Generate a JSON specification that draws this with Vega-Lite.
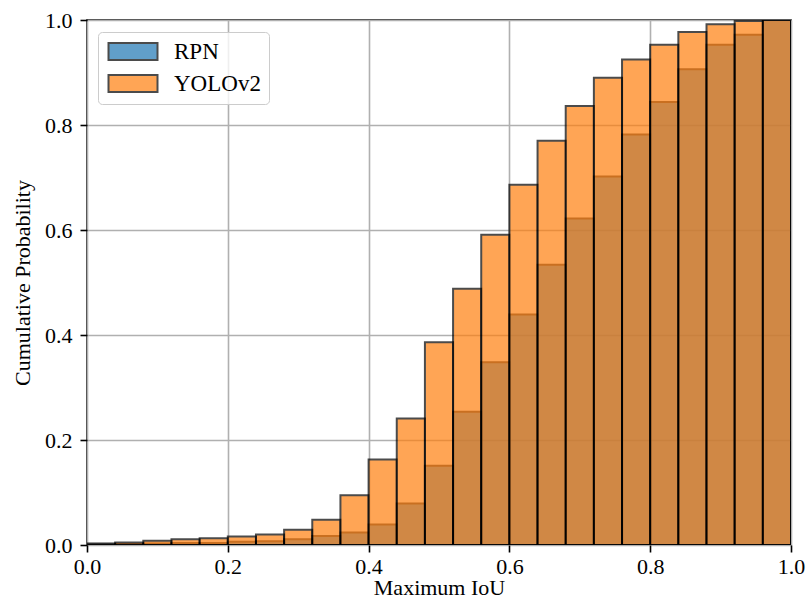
{
  "$schema": "https://vega.github.io/schema/vega-lite/v6.json",
  "width": 704,
  "height": 525,
  "autosize": "none",
  "padding": {"left": 87, "top": 20, "right": 17, "bottom": 65},
  "background": "white",
  "config": {
    "view": {"stroke": "black", "strokeWidth": 1.6},
    "font": "Liberation Serif",
    "axis": {
      "labelFont": "Liberation Serif",
      "labelFontSize": 22,
      "labelColor": "black",
      "titleFont": "Liberation Serif",
      "titleFontSize": 22,
      "titleFontWeight": "normal",
      "titleColor": "black",
      "domain": false,
      "tickColor": "black",
      "tickSize": 7,
      "tickWidth": 1.6,
      "grid": true,
      "gridColor": "#b0b0b0",
      "gridWidth": 1.6,
      "gridOpacity": 1,
      "zindex": 1
    },
    "legend": {
      "labelFont": "Liberation Serif",
      "labelFontSize": 23,
      "labelColor": "black"
    }
  },
  "data": {
    "values": [
      {"series": "RPN", "start": 0.00, "end": 0.04, "value": 0.001},
      {"series": "RPN", "start": 0.04, "end": 0.08, "value": 0.002},
      {"series": "RPN", "start": 0.08, "end": 0.12, "value": 0.003},
      {"series": "RPN", "start": 0.12, "end": 0.16, "value": 0.004},
      {"series": "RPN", "start": 0.16, "end": 0.20, "value": 0.004},
      {"series": "RPN", "start": 0.20, "end": 0.24, "value": 0.006},
      {"series": "RPN", "start": 0.24, "end": 0.28, "value": 0.007},
      {"series": "RPN", "start": 0.28, "end": 0.32, "value": 0.011},
      {"series": "RPN", "start": 0.32, "end": 0.36, "value": 0.017},
      {"series": "RPN", "start": 0.36, "end": 0.40, "value": 0.024},
      {"series": "RPN", "start": 0.40, "end": 0.44, "value": 0.039},
      {"series": "RPN", "start": 0.44, "end": 0.48, "value": 0.079},
      {"series": "RPN", "start": 0.48, "end": 0.52, "value": 0.151},
      {"series": "RPN", "start": 0.52, "end": 0.56, "value": 0.254},
      {"series": "RPN", "start": 0.56, "end": 0.60, "value": 0.348},
      {"series": "RPN", "start": 0.60, "end": 0.64, "value": 0.439},
      {"series": "RPN", "start": 0.64, "end": 0.68, "value": 0.534},
      {"series": "RPN", "start": 0.68, "end": 0.72, "value": 0.622},
      {"series": "RPN", "start": 0.72, "end": 0.76, "value": 0.702},
      {"series": "RPN", "start": 0.76, "end": 0.80, "value": 0.782},
      {"series": "RPN", "start": 0.80, "end": 0.84, "value": 0.844},
      {"series": "RPN", "start": 0.84, "end": 0.88, "value": 0.906},
      {"series": "RPN", "start": 0.88, "end": 0.92, "value": 0.953},
      {"series": "RPN", "start": 0.92, "end": 0.96, "value": 0.972},
      {"series": "RPN", "start": 0.96, "end": 1.00, "value": 1.0},
      {"series": "YOLOv2", "start": 0.00, "end": 0.04, "value": 0.003},
      {"series": "YOLOv2", "start": 0.04, "end": 0.08, "value": 0.005},
      {"series": "YOLOv2", "start": 0.08, "end": 0.12, "value": 0.008},
      {"series": "YOLOv2", "start": 0.12, "end": 0.16, "value": 0.011},
      {"series": "YOLOv2", "start": 0.16, "end": 0.20, "value": 0.013},
      {"series": "YOLOv2", "start": 0.20, "end": 0.24, "value": 0.016},
      {"series": "YOLOv2", "start": 0.24, "end": 0.28, "value": 0.020},
      {"series": "YOLOv2", "start": 0.28, "end": 0.32, "value": 0.029},
      {"series": "YOLOv2", "start": 0.32, "end": 0.36, "value": 0.048},
      {"series": "YOLOv2", "start": 0.36, "end": 0.40, "value": 0.095},
      {"series": "YOLOv2", "start": 0.40, "end": 0.44, "value": 0.163},
      {"series": "YOLOv2", "start": 0.44, "end": 0.48, "value": 0.241},
      {"series": "YOLOv2", "start": 0.48, "end": 0.52, "value": 0.386},
      {"series": "YOLOv2", "start": 0.52, "end": 0.56, "value": 0.488},
      {"series": "YOLOv2", "start": 0.56, "end": 0.60, "value": 0.591},
      {"series": "YOLOv2", "start": 0.60, "end": 0.64, "value": 0.686},
      {"series": "YOLOv2", "start": 0.64, "end": 0.68, "value": 0.770},
      {"series": "YOLOv2", "start": 0.68, "end": 0.72, "value": 0.836},
      {"series": "YOLOv2", "start": 0.72, "end": 0.76, "value": 0.890},
      {"series": "YOLOv2", "start": 0.76, "end": 0.80, "value": 0.925},
      {"series": "YOLOv2", "start": 0.80, "end": 0.84, "value": 0.953},
      {"series": "YOLOv2", "start": 0.84, "end": 0.88, "value": 0.977},
      {"series": "YOLOv2", "start": 0.88, "end": 0.92, "value": 0.992},
      {"series": "YOLOv2", "start": 0.92, "end": 0.96, "value": 0.998},
      {"series": "YOLOv2", "start": 0.96, "end": 1.00, "value": 1.0}
    ]
  },
  "mark": {"type": "bar", "stroke": "black", "strokeWidth": 2, "opacity": 0.7, "clip": true},
  "encoding": {
    "x": {
      "field": "start",
      "type": "quantitative",
      "scale": {"domain": [0, 1], "nice": false, "zero": false},
      "axis": {"title": "Maximum IoU", "values": [0, 0.2, 0.4, 0.6, 0.8, 1.0], "format": ".1f", "labelPadding": 4, "titlePadding": 0, "labelFlush": false}
    },
    "x2": {"field": "end"},
    "y": {
      "field": "value",
      "type": "quantitative",
      "stack": null,
      "scale": {"domain": [0, 1], "nice": false},
      "axis": {"title": "Cumulative Probability", "values": [0, 0.2, 0.4, 0.6, 0.8, 1.0], "format": ".1f", "labelPadding": 8, "titlePadding": 10, "labelFlush": false}
    },
    "y2": {"datum": 0},
    "color": {
      "field": "series",
      "type": "nominal",
      "scale": {"domain": ["RPN", "YOLOv2"], "range": ["#1f77b4", "#ff7f0e"]},
      "legend": {
        "title": null,
        "orient": "none",
        "legendX": 11,
        "legendY": 12,
        "padding": 8,
        "cornerRadius": 4,
        "strokeColor": "#cccccc",
        "fillColor": "rgba(255,255,255,0.8)",
        "symbolType": "M-0.9,-0.85H4V0.85H-0.9Z",
        "symbolSize": 400,
        "symbolOpacity": 0.7,
        "symbolStrokeColor": "black",
        "symbolStrokeWidth": 2,
        "labelOffset": 45,
        "rowPadding": 7
      }
    },
    "order": {"field": "series", "type": "nominal"}
  }
}
